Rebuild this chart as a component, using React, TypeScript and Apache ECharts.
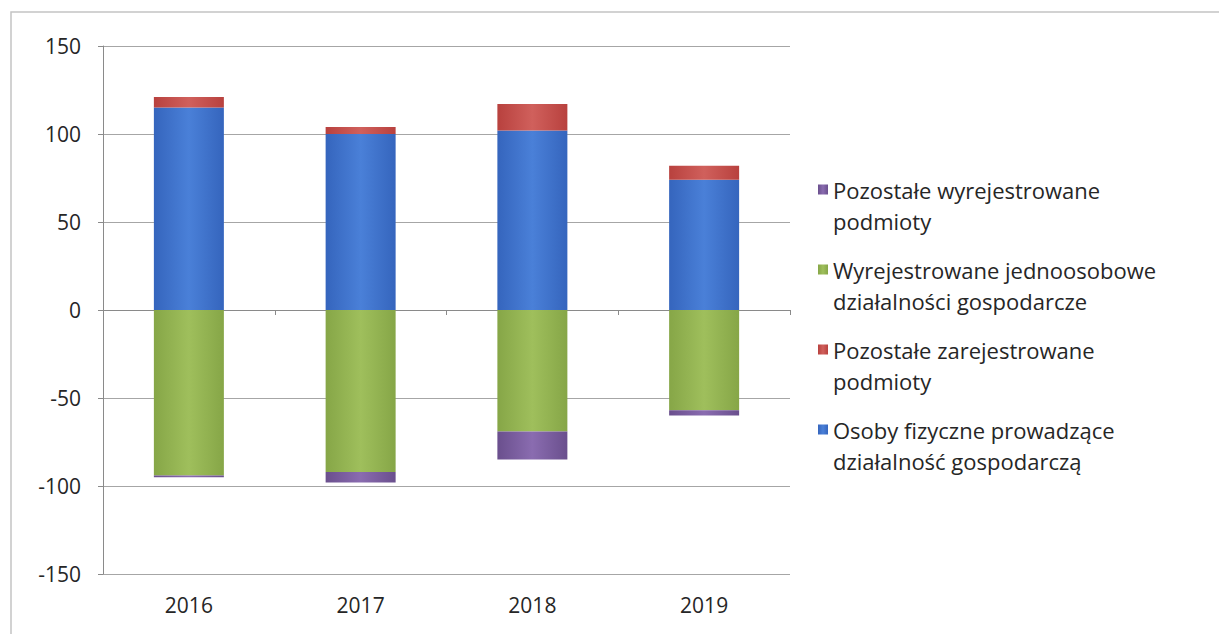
import React, { useEffect, useRef } from "react";
import * as echarts from "echarts";

const years = ["2016", "2017", "2018", "2019"];
const osobyFizyczne = [115, 100, 102, 74];
const pozostaleZarejestrowane = [6, 4, 15, 8];
const wyrejestrowaneJdg = [-94, -92, -69, -57];
const pozostaleWyrejestrowane = [-1, -6, -16, -3];
const yTicks = [-150, -100, -50, 0, 50, 100, 150];

const names = {
  blue: "Osoby fizyczne prowadzące\ndziałalność gospodarczą",
  red: "Pozostałe zarejestrowane\npodmioty",
  green: "Wyrejestrowane jednoosobowe\ndziałalności gospodarcze",
  purple: "Pozostałe wyrejestrowane\npodmioty",
};

const FONT = "Open Sans";

function grad(edge: string, mid: string) {
  return new echarts.graphic.LinearGradient(0, 0, 1, 0, [
    { offset: 0, color: edge },
    { offset: 0.5, color: mid },
    { offset: 1, color: edge },
  ]);
}

// legend icon: a 10x10 square at the top of a 10x41 box (tiny dot keeps the box height)
const LEGEND_ICON = "path://M0,0h10v10h-10z M0,40.9h0.1v0.1h-0.1z";

export default function App() {
  const ref = useRef<HTMLDivElement>(null);
  useEffect(() => {
    if (!ref.current) return;
    const chart = echarts.init(ref.current, undefined, { renderer: "svg" });
    const barW = 70;
    chart.setOption({
      animation: false,
      backgroundColor: "#ffffff",
      graphic: [
        {
          type: "rect",
          shape: { x: 11, y: 12, width: 1230, height: 640 },
          style: { fill: "none", stroke: "#c4c4c4", lineWidth: 1.5 },
          silent: true,
        },
      ],
      grid: { left: 103, right: 429, top: 46, bottom: 60 },
      legend: {
        orient: "vertical",
        left: 818,
        top: 174,
        padding: 0,
        itemGap: 18,
        itemWidth: 10,
        itemHeight: 41,
        icon: LEGEND_ICON,
        data: [names.purple, names.green, names.red, names.blue],
        textStyle: {
          fontFamily: FONT,
          fontSize: 22,
          color: "#262626",
          lineHeight: 31,
        },
      },
      xAxis: [
        {
          type: "category",
          data: years,
          position: "bottom",
          axisLine: { onZero: false, show: false },
          axisTick: { show: false },
          axisLabel: {
            fontFamily: FONT,
            fontSize: 21,
            color: "#262626",
            margin: 20,
          },
        },
        {
          type: "category",
          data: years,
          position: "bottom",
          axisLine: { onZero: true, show: true, lineStyle: { color: "#8a8a8a", width: 1 } },
          axisTick: { show: true, length: 5, lineStyle: { color: "#8a8a8a" } },
          axisLabel: { show: false },
        },
      ],
      yAxis: {
        type: "value",
        min: yTicks[0],
        max: yTicks[yTicks.length - 1],
        interval: 50,
        axisLine: { show: true, lineStyle: { color: "#8a8a8a" } },
        axisTick: { show: true, length: 5, lineStyle: { color: "#8a8a8a" } },
        splitLine: { show: true, lineStyle: { color: "#a6a6a6", width: 1 } },
        axisLabel: {
          fontFamily: FONT,
          fontSize: 21,
          color: "#262626",
          margin: 22,
        },
      },
      series: [
        {
          name: names.blue,
          type: "bar",
          stack: "s",
          barWidth: barW,
          data: osobyFizyczne,
          itemStyle: { color: grad("#3565bd", "#4a80d8") },
        },
        {
          name: names.red,
          type: "bar",
          stack: "s",
          barWidth: barW,
          data: pozostaleZarejestrowane,
          itemStyle: { color: grad("#b8413e", "#d0605c") },
        },
        {
          name: names.green,
          type: "bar",
          stack: "s",
          barWidth: barW,
          data: wyrejestrowaneJdg,
          itemStyle: { color: grad("#86a647", "#9fbf5c") },
        },
        {
          name: names.purple,
          type: "bar",
          stack: "s",
          barWidth: barW,
          data: pozostaleWyrejestrowane,
          itemStyle: { color: grad("#6a4f8d", "#8a6cb0") },
        },
      ],
    });
    return () => chart.dispose();
  }, []);
  return (
    <div
      ref={ref}
      style={{ position: "fixed", left: 0, top: 0, width: 1219, height: 634 }}
    />
  );
}
